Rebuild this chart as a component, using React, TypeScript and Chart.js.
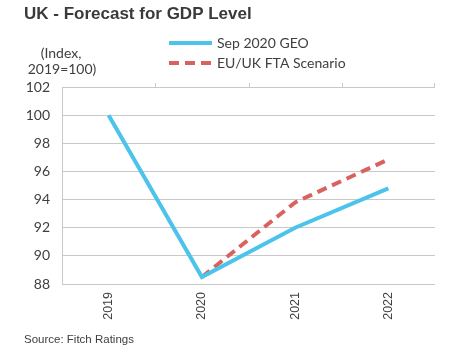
import React, { useEffect, useRef } from "react";
import { Chart, registerables } from "chart.js";
Chart.register(...registerables);

const categories = ["2019", "2020", "2021", "2022"];
const geoSeries = [100, 88.5, 92.0, 94.8];
const ftaSeries = [null, 88.5, 93.8, 96.85];
const yMin = 88;
const yMax = 102;
const yStep = 2;
const titleText = "UK - Forecast for GDP Level";
const yTitleLines = ["(Index,", "2019=100)"];
const sourceText = "Source: Fitch Ratings";
const seriesNames = ["Sep 2020 GEO", "EU/UK FTA Scenario"];

const BLUE = "#4cc3ea";
const RED = "#d9615f";
const TEXT = "#404040";
const GRID = "#c9c9c9";

const decorPlugin = {
  id: "decor",
  afterDraw(chart: any) {
    const ctx = chart.ctx;
    const area = chart.chartArea;
    ctx.save();
    // title
    ctx.fillStyle = "#3a3a3a";
    ctx.font = "bold 17px 'Liberation Sans', Arial, sans-serif";
    ctx.textBaseline = "middle";
    ctx.textAlign = "left";
    ctx.fillText(titleText, 24, 14);
    // y title
    ctx.fillStyle = TEXT;
    ctx.font = "14px Lato, sans-serif";
    ctx.textAlign = "center";
    ctx.fillText(yTitleLines[0], 61, 53);
    ctx.fillText(yTitleLines[1], 62, 69);
    // legend
    const rows = [
      { y: 43, color: BLUE, dash: [] as number[] },
      { y: 63, color: RED, dash: [10, 6] },
    ];
    rows.forEach((r, i) => {
      ctx.beginPath();
      ctx.strokeStyle = r.color;
      ctx.lineWidth = 4;
      ctx.setLineDash(r.dash);
      ctx.moveTo(169, r.y);
      ctx.lineTo(212, r.y);
      ctx.stroke();
      ctx.setLineDash([]);
      ctx.fillStyle = TEXT;
      ctx.textAlign = "left";
      ctx.font = "14px Lato, sans-serif";
      ctx.fillText(seriesNames[i], 217, r.y);
    });
    // top tick marks at category boundaries
    const xs = chart.scales.x;
    ctx.strokeStyle = GRID;
    ctx.lineWidth = 1;
    for (let i = 1; i <= categories.length; i++) {
      const px = Math.round((xs.getPixelForValue(i - 1) + xs.getPixelForValue(i)) / 2) + 0.5;
      const x = i === categories.length ? area.right - 0.5 : px;
      ctx.beginPath();
      ctx.moveTo(x, area.top);
      ctx.lineTo(x, area.top - 4);
      ctx.stroke();
    }
    // source
    ctx.fillStyle = TEXT;
    ctx.font = "11.5px 'Liberation Sans', Arial, sans-serif";
    ctx.textAlign = "left";
    ctx.fillText(sourceText, 24, 340);
    ctx.restore();
  },
};

export default function App() {
  const ref = useRef<HTMLCanvasElement | null>(null);
  useEffect(() => {
    if (!ref.current) return;
    const chart = new Chart(ref.current, {
      type: "line",
      data: {
        labels: categories,
        datasets: [
          {
            label: seriesNames[0],
            data: geoSeries,
            borderColor: BLUE,
            backgroundColor: BLUE,
            borderWidth: 4,
            pointRadius: 0,
            tension: 0,
          },
          {
            label: seriesNames[1],
            data: ftaSeries as any,
            borderColor: RED,
            backgroundColor: RED,
            borderWidth: 4,
            borderDash: [10, 6],
            pointRadius: 0,
            tension: 0,
          },
        ],
      },
      options: {
        animation: false,
        responsive: false,
        layout: { padding: { top: 87, right: 15, bottom: 0, left: 0 } },
        plugins: {
          legend: { display: false },
          title: { display: false },
          tooltip: { enabled: false },
        },
        scales: {
          x: {
            offset: true,
            grid: { display: false, drawTicks: false },
            border: { display: false },
            ticks: {
              minRotation: 90,
              maxRotation: 90,
              padding: 8,
              color: TEXT,
              font: { family: "'Liberation Sans', Arial, sans-serif", size: 12.5 },
            },
            afterFit: (s: any) => {
              s.height = 73;
            },
          },
          y: {
            min: yMin,
            max: yMax,
            ticks: {
              stepSize: yStep,
              padding: 12,
              color: TEXT,
              font: { family: "Lato, sans-serif", size: 14 },
            },
            grid: { color: GRID, drawTicks: false, lineWidth: 1 },
            border: { display: true, color: GRID },
            afterFit: (s: any) => {
              s.width = 62;
            },
          },
        },
      },
      plugins: [decorPlugin],
    });
    return () => chart.destroy();
  }, []);
  return (
    <div style={{ position: "absolute", left: 0, top: 0, width: 450, height: 357, background: "#fff" }}>
      <canvas ref={ref} width={450} height={357} />
    </div>
  );
}
